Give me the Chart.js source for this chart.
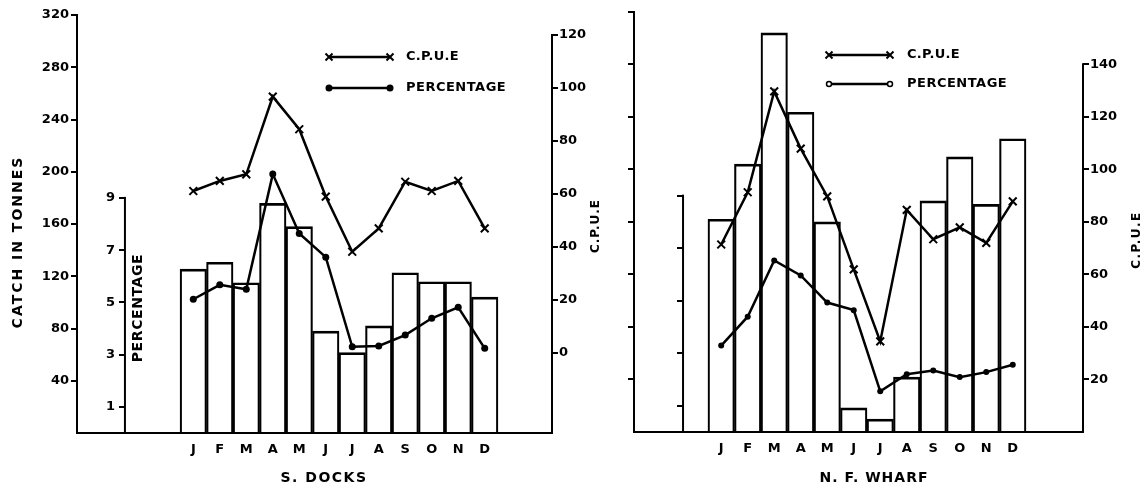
<!DOCTYPE html>
<html><head><meta charset="utf-8">
<script src="https://cdn.jsdelivr.net/npm/chart.js@4.4.0/dist/chart.umd.min.js"></script>
<style>
html,body{margin:0;padding:0;background:#fff;}
#wrap{position:relative;width:1145px;height:489px;overflow:hidden;background:#fff;}
canvas{position:absolute;top:0;}
#cL{left:0}
#cR{left:610px}
</style></head><body>
<div id="wrap"><canvas id="cL" width="610" height="489"></canvas><canvas id="cR" width="535" height="489"></canvas></div>
<script>
const months = ['J','F','M','A','M','J','J','A','S','O','N','D'];
const catchDocks = [125.5, 130.7, 115, 175.8, 158, 78, 61.5, 82, 122.7, 115.8, 115.8, 104];
const cpueDocks  = [61.1, 64.9, 67.4, 96.7, 84.4, 59, 38.2, 47, 64.6, 61.1, 64.9, 47];
const pctDocks   = [5.12, 5.67, 5.5, 9.91, 7.64, 6.73, 3.3, 3.33, 3.75, 4.39, 4.81, 3.24];
const catchWharf = [162, 204, 304, 243.5, 160, 18.4, 9.8, 41.8, 176, 209.5, 173.4, 223.3];
const cpueWharf  = [71.4, 91.3, 129.7, 107.9, 89.7, 61.9, 34.5, 84.6, 73.4, 77.9, 72, 87.8];
const pctWharf   = [3.29, 4.39, 6.53, 5.96, 4.93, 4.64, 1.55, 2.2, 2.34, 2.09, 2.28, 2.56];
const catchTicks = [40, 80, 120, 160, 200, 240, 280, 320];
const pctTicks = [1, 3, 5, 7, 9];
const cpueTicksDocks = [0, 20, 40, 60, 80, 100, 120];
const cpueTicksWharf = [20, 40, 60, 80, 100, 120, 140];

const FONT = '"DejaVu Sans", sans-serif';
const tickFont = {family: FONT, size: 13, weight: 'bold'};

function drawX(ctx, x, y, r) {
  ctx.beginPath();
  ctx.moveTo(x - r, y - r); ctx.lineTo(x + r, y + r);
  ctx.moveTo(x + r, y - r); ctx.lineTo(x - r, y + r);
  ctx.stroke();
}

const decor = {
  id: 'decor',
  afterDraw(chart, args, o) {
    const ctx = chart.ctx, ca = chart.chartArea;
    const sx = chart.scales.x, sp = chart.scales.yP, su = chart.scales.yU;
    ctx.save();
    ctx.strokeStyle = '#000'; ctx.fillStyle = '#000'; ctx.lineWidth = 2;
    // percentage axis line
    const px = sx.getPixelForValue(o.pctAt);
    ctx.beginPath(); ctx.moveTo(px, ca.bottom); ctx.lineTo(px, sp.getPixelForValue(o.pctTop) - 1); ctx.stroke();
    // percentage axis labels
    if (o.pctLabels) {
      ctx.font = 'bold 13px ' + FONT;
      ctx.textAlign = 'right'; ctx.textBaseline = 'middle';
      pctTicks.forEach(v => ctx.fillText(String(v), px - 10, sp.getPixelForValue(v)));
    }
    // cpue axis line
    const ux = su.left;
    ctx.beginPath(); ctx.moveTo(ux, ca.bottom + 1); ctx.lineTo(ux, su.getPixelForValue(o.cpueTop) - 1); ctx.stroke();
    // legend
    const L = o.legend;
    ctx.lineWidth = 2.5;
    ctx.beginPath(); ctx.moveTo(L.x1, L.yU); ctx.lineTo(L.x2, L.yU); ctx.stroke();
    ctx.lineWidth = 2;
    drawX(ctx, L.x1, L.yU, 3.5); drawX(ctx, L.x2, L.yU, 3.5);
    ctx.lineWidth = 2.5;
    ctx.beginPath(); ctx.moveTo(L.x1, L.yP); ctx.lineTo(L.x2, L.yP); ctx.stroke();
    [L.x1, L.x2].forEach(x => {
      ctx.beginPath(); ctx.arc(x, L.yP, L.filled ? 3.5 : 2.5, 0, Math.PI * 2);
      if (L.filled) { ctx.fill(); } else { ctx.fillStyle = '#fff'; ctx.fill(); ctx.lineWidth = 1.5; ctx.stroke(); ctx.fillStyle = '#000'; }
    });
    ctx.font = 'bold 13px ' + FONT;
    ctx.textAlign = 'left'; ctx.textBaseline = 'middle';
    ctx.letterSpacing = '0.3px';
    ctx.fillText('C.P.U.E', L.tx, L.yU);
    ctx.letterSpacing = '0.5px';
    ctx.fillText('PERCENTAGE', L.tx, L.yP);
    // titles
    o.titles.forEach(t => {
      ctx.save();
      ctx.font = t.font;
      ctx.letterSpacing = t.ls || '0px';
      ctx.translate(t.x, t.y);
      if (t.rot) ctx.rotate(-Math.PI / 2);
      ctx.textAlign = 'center'; ctx.textBaseline = 'middle';
      ctx.fillText(t.text, 0, 0);
      ctx.restore();
    });
    ctx.restore();
  }
};

function pts(arr) { return arr.map((v, i) => ({x: i + 1, y: v})); }
function fixTicks(list) { return s => { s.ticks = list.map(v => ({value: v})); }; }
const tickGrid = {display: true, drawOnChartArea: false, drawTicks: true, tickLength: 6, color: '#000', lineWidth: 2};

function makePanel(id, d) {
  return new Chart(document.getElementById(id), {
    type: 'bar',
    data: {datasets: [
      {type: 'line', label: 'C.P.U.E', data: pts(d.cpue), yAxisID: 'yU', borderColor: '#000', borderWidth: 2.5,
       pointStyle: 'crossRot', pointRadius: 5.5, pointBorderWidth: 2, pointBorderColor: '#000', pointBackgroundColor: '#000', tension: 0, order: 0},
      {type: 'line', label: 'PERCENTAGE', data: pts(d.pct), yAxisID: 'yP', borderColor: '#000', borderWidth: 2.5,
       pointStyle: 'circle', pointRadius: d.dotR, pointBorderWidth: 0, pointBackgroundColor: '#000', tension: 0, order: 1},
      {type: 'bar', label: 'Catch', data: pts(d.catchV), yAxisID: 'yC', backgroundColor: 'rgba(255,255,255,0)', borderColor: '#000',
       borderWidth: {top: 2, left: 1.5, right: 1.5, bottom: 0}, categoryPercentage: 1, barPercentage: 1, order: 2}
    ]},
    options: {
      responsive: false, animation: false, events: [], devicePixelRatio: 1,
      layout: {padding: {top: d.padTop, left: 0, right: 0, bottom: 0}},
      plugins: {legend: {display: false}, tooltip: {enabled: false}, decor: d.decor},
      scales: {
        x: {type: 'linear', position: 'bottom', min: d.xMin, max: d.xMax, offset: false,
            grid: {display: false, drawTicks: false, offset: false}, border: {display: true, width: 2, color: '#000'},
            ticks: {color: '#000', font: tickFont, padding: 9, autoSkip: false, maxRotation: 0, callback: v => months[v - 1] || ''},
            afterBuildTicks: fixTicks(months.map((m, i) => i + 1)), afterFit: s => { s.height = d.xH; }},
        yC: {type: 'linear', axis: 'y', position: 'left', min: 0, max: 320, grid: tickGrid, border: {display: true, width: 2, color: '#000'},
            ticks: {color: '#000', font: tickFont, padding: 2, callback: d.catchLabels ? (v => String(v)) : (() => '')},
            afterBuildTicks: fixTicks(catchTicks), afterFit: s => { s.width = d.yCW; }},
        yP: {type: 'linear', axis: 'y', position: {x: d.pctAt}, min: 0, max: 16, grid: tickGrid, border: {display: false},
            ticks: {color: '#000', font: tickFont, padding: 4, callback: () => ''},
            afterBuildTicks: fixTicks(pctTicks)},
        yU: {type: 'linear', axis: 'y', position: 'right', min: d.uMin, max: d.uMax, grid: tickGrid, border: {display: false},
            ticks: {color: '#000', font: tickFont, padding: 1, callback: v => String(v)},
            afterBuildTicks: fixTicks(d.uTicks), afterFit: s => { s.width = d.yUW; }}
      }
    },
    plugins: [decor]
  });
}

makePanel('cL', {
  catchV: catchDocks, cpue: cpueDocks, pct: pctDocks, dotR: 3.5,
  xMin: -3.39, xMax: 14.54, pctAt: -1.58, uMin: -30.2, uMax: 127.5, uTicks: cpueTicksDocks,
  padTop: 15, xH: 56, yCW: 77, yUW: 58, catchLabels: true,
  decor: {
    pctAt: -1.58, pctTop: 9, cpueTop: 120, pctLabels: true,
    legend: {x1: 329, x2: 390, yU: 57, yP: 88, tx: 406, filled: true},
    titles: [
      {text: 'CATCH IN TONNES', x: 18, y: 242, rot: true, font: 'bold 14px ' + FONT, ls: '2px'},
      {text: 'PERCENTAGE', x: 138, y: 308, rot: true, font: 'bold 14px ' + FONT, ls: '0.6px'},
      {text: 'C.P.U.E', x: 596, y: 226, rot: true, font: 'bold 12px ' + FONT, ls: '1px'},
      {text: 'S. DOCKS', x: 324, y: 478, rot: false, font: 'bold 14px ' + FONT, ls: '1.5px'}
    ]
  }
});

makePanel('cR', {
  catchV: catchWharf, cpue: cpueWharf, pct: pctWharf, dotR: 3,
  xMin: -2.29, xMax: 14.65, pctAt: -0.44, uMin: 0, uMax: 160, uTicks: cpueTicksWharf,
  padTop: 9, xH: 57, yCW: 24, yUW: 62, catchLabels: false,
  decor: {
    pctAt: -0.44, pctTop: 9, cpueTop: 140, pctLabels: false,
    legend: {x1: 219, x2: 280, yU: 55, yP: 84, tx: 297, filled: false},
    titles: [
      {text: 'C.P.U.E', x: 527, y: 240, rot: true, font: 'bold 12px ' + FONT, ls: '1.5px'},
      {text: 'N. F. WHARF', x: 264, y: 478, rot: false, font: 'bold 14px ' + FONT, ls: '1px'}
    ]
  }
});
</script>
</body></html>
